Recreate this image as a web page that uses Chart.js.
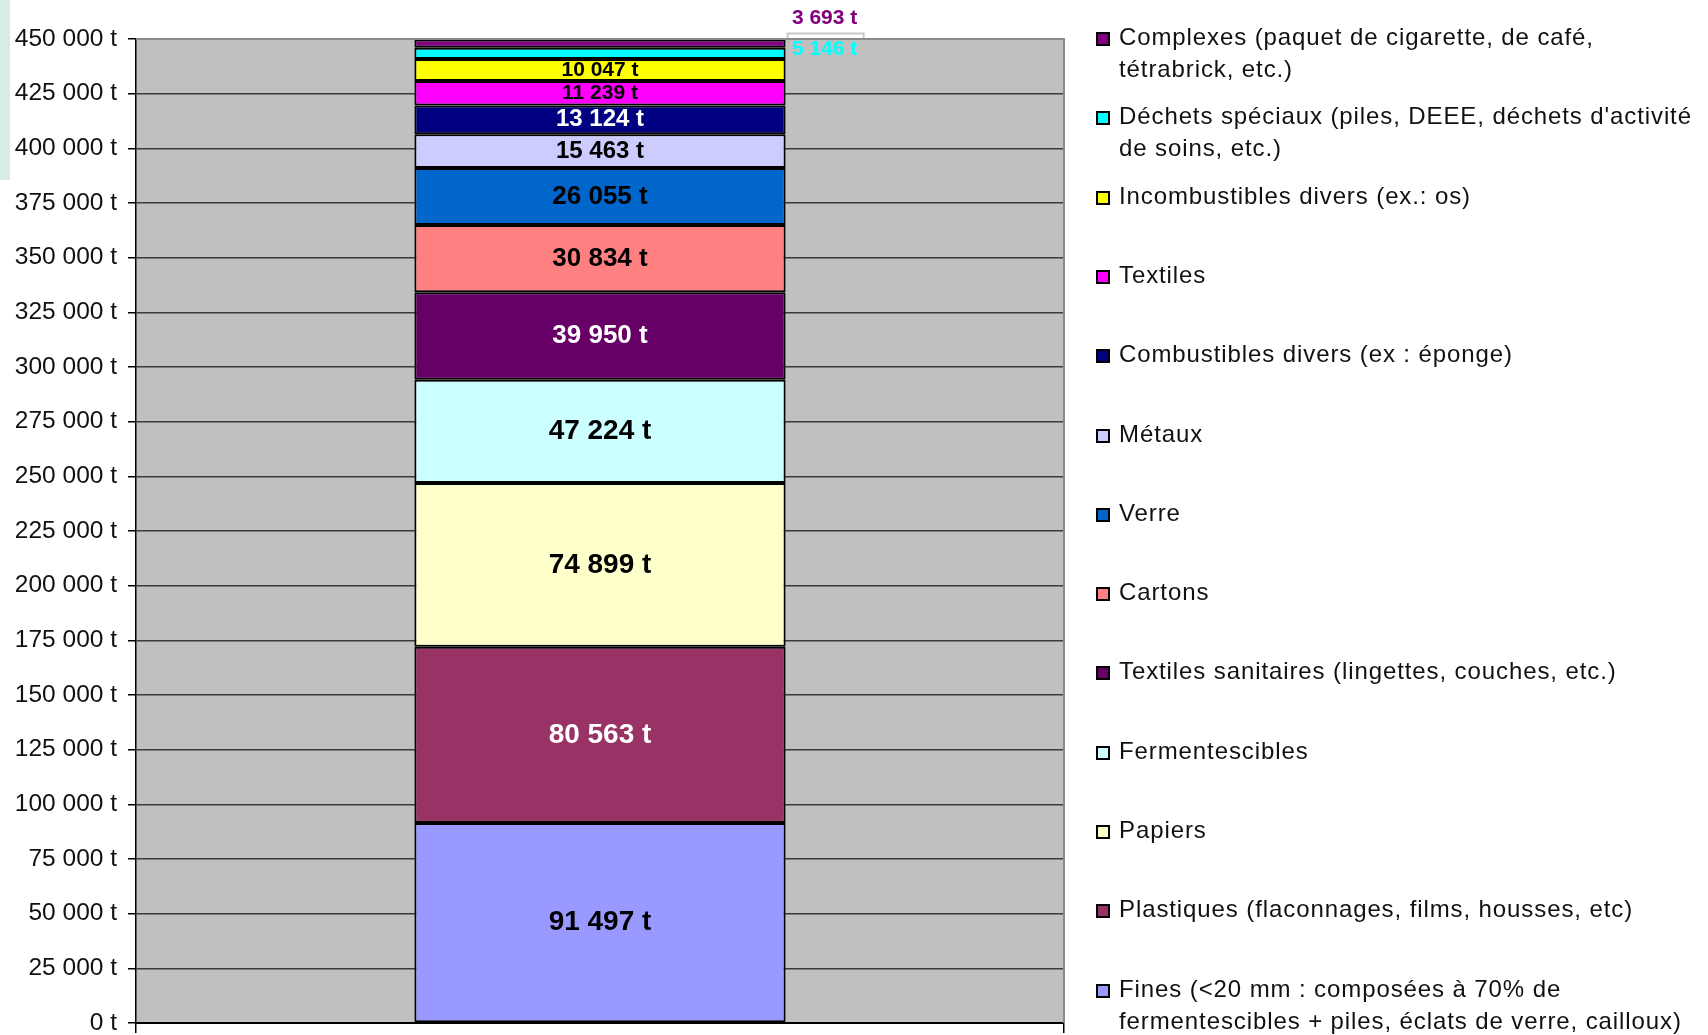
<!DOCTYPE html>
<html lang="fr">
<head>
<meta charset="utf-8">
<title>Composition des ordures ménagères</title>
<script src="https://cdn.jsdelivr.net/npm/chart.js@4/dist/chart.umd.min.js"></script>
<style>
  html, body { margin: 0; padding: 0; background: #fff; }
  #wrap { position: relative; width: 1708px; height: 1035px; overflow: hidden; }
  #strip { position: absolute; left: 0; top: 0; width: 10px; height: 180px; background: #d8ebe6; }
  #chart { position: absolute; left: 0; top: 0; }
  #legende { position: absolute; left: 1093px; top: 0; width: 615px; font-family: "Liberation Sans", Arial, sans-serif; font-size: 24px; letter-spacing: 0.9px; color: #111; }
  .leg-item { position: absolute; left: 0; white-space: nowrap; }
  .leg-box { position: absolute; left: 3px; width: 10px; height: 10px; border: 2px solid #000; }
  .leg-text { position: absolute; left: 26px; line-height: 32px; }
</style>
</head>
<body>
<div id="wrap">
  <div id="strip"></div>
  <canvas id="chart" width="1708" height="1035"></canvas>
  <div id="legende"></div>
</div>
<script>
// categories, du bas de la pile vers le haut
const categories = [
    ['Fines (<20 mm : composées à 70% de', 'fermentescibles + piles, éclats de verre, cailloux)'],
    ['Plastiques (flaconnages, films, housses, etc)'],
    ['Papiers'],
    ['Fermentescibles'],
    ['Textiles sanitaires (lingettes, couches, etc.)'],
    ['Cartons'],
    ['Verre'],
    ['Métaux'],
    ['Combustibles divers (ex : éponge)'],
    ['Textiles'],
    ['Incombustibles divers (ex.: os)'],
    ['Déchets spéciaux (piles, DEEE, déchets d\'activité', 'de soins, etc.)'],
    ['Complexes (paquet de cigarette, de café,', 'tétrabrick, etc.)']
];
const tonnages = [91497, 80563, 74899, 47224, 39950, 30834, 26055, 15463, 13124, 11239, 10047, 5146, 3693];
const couleurs = ['#9999FF', '#993366', '#FFFFCC', '#CCFFFF', '#660066', '#FF8080', '#0066CC',
                  '#CCCCFF', '#000080', '#FF00FF', '#FFFF00', '#00FFFF', '#800080'];
const couleursEtiquettes = ['#000', '#fff', '#000', '#000', '#fff', '#000', '#000',
                            '#000', '#fff', '#000', '#000', '#00FFFF', '#800080'];
const taillesEtiquettes = [28, 28, 28, 28, 26, 26, 26, 24, 24, 21, 21, 21, 21];
const yMin = 0, yMax = 450000, yPas = 25000;

// étiquettes trop petites : placées à droite de la barre
const etiquettesExterieures = {
    11: { dx: 39, dy: -4 },
    12: { dx: 39, dy: -25, accolade: true }
};

function formatTonnes(v) {
    return String(Math.round(v)).replace(/\B(?=(\d{3})+(?!\d))/g, ' ') + ' t';
}

const fondZone = {
    id: 'fondZone',
    beforeDraw(chart) {
        const a = chart.chartArea;
        const ctx = chart.ctx;
        ctx.save();
        ctx.fillStyle = '#C0C0C0';
        ctx.fillRect(a.left, a.top, a.right - a.left, a.bottom - a.top);
        ctx.restore();
    },
    afterDraw(chart) {
        const a = chart.chartArea;
        const ctx = chart.ctx;
        ctx.save();
        ctx.strokeStyle = '#8a8a8a';
        ctx.lineWidth = 2;
        ctx.beginPath();
        ctx.moveTo(a.left, a.top);
        ctx.lineTo(a.right, a.top);
        ctx.lineTo(a.right, a.bottom);
        ctx.stroke();
        ctx.restore();
    }
};

const etiquettes = {
    id: 'etiquettes',
    afterDatasetsDraw(chart) {
        const ctx = chart.ctx;
        ctx.save();
        ctx.textAlign = 'center';
        ctx.textBaseline = 'middle';
        chart.data.datasets.forEach((ds, i) => {
            const bar = chart.getDatasetMeta(i).data[0];
            if (!bar) return;
            const p = bar.getProps(['x', 'y', 'base', 'width'], true);
            let x = p.x;
            let y = (p.y + p.base) / 2;
            const ext = etiquettesExterieures[i];
            if (ext) {
                x = p.x + p.width / 2 + ext.dx;
                y = y + ext.dy;
                if (ext.accolade) {
                    const x0 = p.x + p.width / 2 + 2;
                    const x1 = x0 + 76;
                    const yb = y + 15;
                    ctx.strokeStyle = '#c8c8c8';
                    ctx.lineWidth = 2;
                    ctx.beginPath();
                    ctx.moveTo(x0, yb + 5);
                    ctx.lineTo(x0, yb);
                    ctx.lineTo(x1, yb);
                    ctx.lineTo(x1, yb + 5);
                    ctx.stroke();
                }
            }
            ctx.font = 'bold ' + taillesEtiquettes[i] + 'px "Liberation Sans", Arial, sans-serif';
            ctx.fillStyle = couleursEtiquettes[i];
            ctx.fillText(formatTonnes(ds.data[0]), x, y);
        });
        ctx.restore();
    }
};

const datasets = categories.map((lignes, i) => ({
    label: lignes.join(' '),
    data: [tonnages[i]],
    backgroundColor: couleurs[i],
    borderColor: '#000',
    borderWidth: 2,
    borderSkipped: false,
    barPercentage: 0.4,
    categoryPercentage: 1
}));

new Chart(document.getElementById('chart'), {
    type: 'bar',
    data: { labels: [''], datasets: datasets },
    options: {
        responsive: false,
        animation: false,
        devicePixelRatio: 1,
        layout: { padding: { left: 0, top: 39, right: 644, bottom: 2 } },
        plugins: {
            legend: { display: false },
            tooltip: { enabled: false }
        },
        scales: {
            x: {
                stacked: true,
                afterFit: (scale) => { scale.height = 10; },
                ticks: { display: false },
                grid: { offset: true, drawOnChartArea: false, tickLength: 10, color: '#000', lineWidth: 1.5 },
                border: { color: '#000', width: 2 }
            },
            y: {
                stacked: true,
                min: yMin,
                max: yMax,
                afterFit: (scale) => {
                    scale.width = 136;
                    scale.paddingTop = 0;
                    scale.paddingBottom = 0;
                },
                ticks: {
                    stepSize: yPas,
                    padding: 11,
                    color: '#111',
                    font: { family: '"Liberation Sans", Arial, sans-serif', size: 24.5 },
                    callback: (v) => formatTonnes(v)
                },
                grid: { color: '#3a3a3a', lineWidth: 1.5, tickLength: 8, tickColor: '#000' },
                border: { color: '#000', width: 1.5 }
            }
        }
    },
    plugins: [fondZone, etiquettes]
});

// légende (du haut vers le bas : ordre inverse de la pile)
const legende = document.getElementById('legende');
categories.slice().reverse().forEach((lignes, k) => {
    const i = categories.length - 1 - k;
    const item = document.createElement('div');
    item.className = 'leg-item';
    item.style.top = (21 + k * 79.3) + 'px';
    item.innerHTML = `
        <div class="leg-box" style="top: 11px; background: ${couleurs[i]}"></div>
        <div class="leg-text">${lignes.map(l => l.replace(/</g, '&lt;')).join('<br>')}</div>
    `;
    legende.appendChild(item);
});
</script>
</body>
</html>
